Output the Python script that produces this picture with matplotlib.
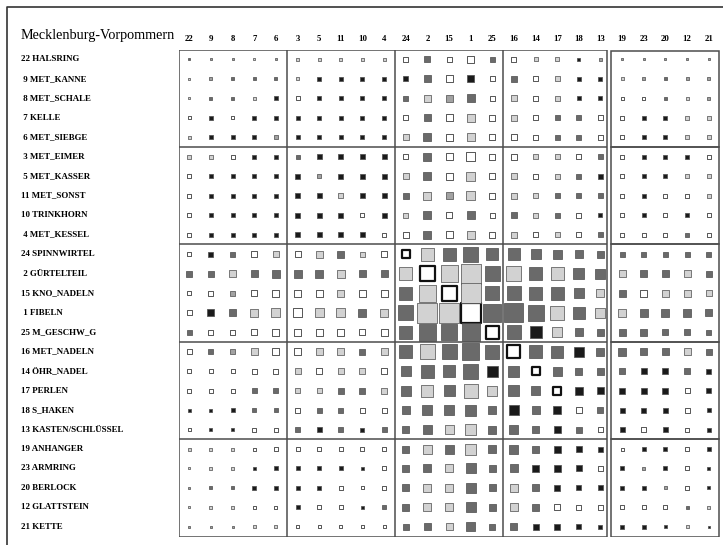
import matplotlib
matplotlib.use("Agg")
import matplotlib.pyplot as plt
from matplotlib.lines import Line2D
from matplotlib.patches import Rectangle
from matplotlib import transforms

plt.rcParams['font.family'] = ['Liberation Serif', 'DejaVu Serif']

title = "Mecklenburg-Vorpommern"

# type numbers in seriation order (rows and columns share it)
codes = [22, 9, 8, 7, 6, 3, 5, 11, 10, 4, 24, 2, 15, 1, 25,
         16, 14, 17, 18, 13, 19, 23, 20, 12, 21]
names = ["HALSRING", "MET_KANNE", "MET_SCHALE", "KELLE", "MET_SIEBGE",
         "MET_EIMER", "MET_KASSER", "MET_SONST", "TRINKHORN", "MET_KESSEL",
         "SPINNWIRTEL", "GÜRTELTEIL", "KNO_NADELN", "FIBELN", "M_GESCHW_G",
         "MET_NADELN", "ÖHR_NADEL", "PERLEN", "S_HAKEN", "KASTEN/SCHLÜSSEL",
         "ANHANGER", "ARMRING", "BERLOCK", "GLATTSTEIN", "KETTE"]

# square side (pixels) for every cell, row by row
sizes = [
    [2, 2, 2, 2, 2, 3, 3, 3, 3, 3, 5, 6, 5, 7, 5, 5, 4, 4, 3, 3, 2, 2, 2, 2, 2],
    [2, 3, 3, 3, 3, 3, 4, 4, 4, 4, 5, 7, 7, 7, 5, 6, 5, 5, 4, 4, 3, 3, 3, 3, 3],
    [2, 3, 3, 3, 4, 4, 4, 4, 4, 4, 5, 7, 7, 8, 5, 6, 5, 5, 4, 4, 3, 3, 3, 3, 3],
    [3, 4, 3, 4, 4, 4, 4, 4, 4, 4, 5, 7, 7, 8, 6, 6, 5, 5, 5, 5, 4, 4, 4, 4, 4],
    [3, 4, 4, 4, 4, 4, 4, 4, 4, 4, 6, 8, 7, 8, 6, 6, 5, 5, 5, 5, 4, 4, 4, 4, 4],
    [4, 4, 4, 4, 4, 4, 5, 5, 5, 5, 5, 8, 7, 9, 6, 6, 5, 5, 5, 5, 4, 4, 4, 4, 4],
    [4, 4, 4, 4, 4, 5, 4, 5, 5, 5, 6, 8, 7, 9, 6, 6, 5, 5, 5, 5, 4, 4, 4, 4, 4],
    [4, 4, 4, 4, 4, 5, 5, 5, 5, 5, 6, 8, 7, 9, 6, 6, 5, 5, 5, 5, 4, 4, 4, 4, 4],
    [4, 4, 4, 4, 4, 5, 5, 5, 4, 5, 5, 8, 6, 8, 5, 6, 5, 5, 5, 4, 4, 4, 4, 4, 4],
    [4, 4, 4, 4, 4, 5, 5, 5, 5, 4, 6, 8, 7, 8, 6, 6, 5, 5, 5, 5, 4, 4, 4, 4, 4],
    [4, 5, 5, 6, 6, 6, 7, 7, 5, 6, 8, 13, 13, 15, 12, 12, 10, 9, 8, 7, 5, 5, 5, 5, 5],
    [6, 6, 7, 7, 8, 8, 8, 8, 7, 7, 13, 15, 17, 20, 15, 15, 13, 13, 11, 10, 7, 7, 7, 7, 6],
    [4, 5, 5, 6, 7, 7, 7, 7, 7, 7, 13, 17, 15, 20, 14, 14, 13, 13, 10, 8, 7, 7, 7, 7, 6],
    [5, 7, 7, 8, 9, 9, 9, 9, 8, 8, 15, 20, 20, 20, 18, 19, 16, 14, 12, 10, 8, 8, 8, 8, 7],
    [5, 5, 5, 6, 7, 7, 7, 7, 6, 7, 13, 17, 16, 18, 13, 14, 12, 10, 8, 7, 7, 7, 6, 6, 5],
    [5, 5, 5, 7, 7, 7, 7, 7, 6, 7, 13, 15, 15, 17, 14, 13, 13, 12, 10, 8, 8, 7, 7, 7, 6],
    [4, 4, 4, 5, 5, 6, 6, 6, 6, 6, 10, 13, 12, 15, 11, 11, 8, 9, 7, 7, 6, 6, 6, 6, 5],
    [4, 4, 4, 5, 5, 5, 5, 6, 6, 6, 10, 12, 11, 14, 10, 11, 9, 8, 8, 7, 6, 6, 6, 5, 5],
    [3, 3, 4, 4, 4, 5, 5, 5, 5, 5, 8, 10, 10, 11, 8, 10, 8, 8, 6, 6, 5, 5, 5, 5, 4],
    [3, 3, 3, 4, 4, 5, 5, 5, 4, 5, 7, 9, 9, 11, 8, 9, 7, 7, 6, 5, 5, 5, 5, 4, 4],
    [3, 3, 3, 3, 4, 4, 4, 4, 4, 4, 7, 9, 9, 11, 8, 9, 7, 7, 6, 5, 3, 4, 4, 4, 4],
    [2, 3, 3, 3, 4, 4, 4, 4, 3, 4, 7, 8, 8, 10, 7, 8, 7, 7, 6, 5, 4, 3, 4, 4, 3],
    [2, 3, 3, 4, 4, 4, 4, 4, 3, 4, 7, 8, 8, 10, 7, 8, 7, 6, 5, 5, 4, 4, 3, 4, 3],
    [2, 3, 3, 3, 3, 4, 4, 4, 3, 4, 7, 8, 8, 10, 7, 8, 7, 6, 5, 5, 4, 4, 4, 3, 3],
    [2, 2, 2, 3, 3, 3, 3, 3, 3, 3, 6, 7, 7, 9, 6, 7, 6, 6, 5, 4, 4, 4, 3, 3, 2],
]

# shading class per cell: W white, L light, M medium, D dark, B black
shades = [
    "DMMLMLLLLLWDWWDWLLBMMMMMM",
    "LMDDDLBBBBBDWBWDWLBBLMDMM",
    "LDDLBWBBBBDLMDWLWLBBWWDLM",
    "WBWBBBBBBBWDWLWLWDDWWBBLL",
    "LBBBMBBBBBLDWLWWWDDWWBBLL",
    "LLWBBDBBBBWDWWWWLLWDWBBBW",
    "WBBBBBMBBBLDWLWLWLDBWBBLL",
    "WBBBBBBLBBDLMLWLLDDDWBWWL",
    "WBBBBBBBWBLDWDWDLDWBWBWBW",
    "WBBBBBBBBWWDWLWLWLWDWWWDW",
    "WBDWLWLDLWWLDDDDDDDDDDDDD",
    "DDLDDDDLDDLWLLDLDLDDLDDLD",
    "WWMWWWWLWWDLWLDDDDDLDWLLL",
    "WBDLLWLLDLDLLWDDDLDLLDDDD",
    "DWWWWWWWWWDDDDWDBLDDDDDDD",
    "WDMLWWLLDLDLDDDWDDBDDDDLD",
    "WWWWWLWLLWDDDDBDWDDDDBBDB",
    "WWWDDLLDDLDLDLLDDWBBBBBWB",
    "BBBDDWDDWWDDDDDBDBWDBBBWB",
    "WBBWWDBDBDDDLLDDDBDWBWBWB",
    "LLLWWWWWWWDLDLDDDBBBWBBWB",
    "LLLBBBBBBWDDLDDDBBBWBMBWB",
    "MDDBBBBWWWDLLDDLDBBBBBMWB",
    "LLLWWBWWBDDLLDDLDWWWWWWDL",
    "MMMLLWWWWWDDLDDDBBBBBBBLB",
]

fill = {"W": "#ffffff", "L": "#d2d2d2", "M": "#a2a2a2", "D": "#6a6a6a", "B": "#1a1a1a"}
n = len(codes)

fig = plt.figure(figsize=(7.23, 5.45), dpi=100)
ax = fig.add_axes([178.5 / 723, 8.3 / 545, 541 / 723, 487.2 / 545])
ax.set_xlim(0, n)
ax.set_ylim(n, 0)
ax.axis("off")

# squares, one scatter per shading class
for key, col in fill.items():
    xs, ys, ss, lws, ecs = [], [], [], [], []
    for r in range(n):
        for c in range(n):
            if shades[r][c] != key:
                continue
            xs.append(c + 0.5)
            ys.append(r + 0.5)
            ss.append((sizes[r][c] * 0.72) ** 2)
            if key == "W" and r == c and sizes[r][c] >= 8:
                lws.append(1.6)
                ecs.append("#111111")
            elif key == "W":
                lws.append(0.7)
                ecs.append("#555555")
            else:
                lws.append(0.5)
                ecs.append("#4a4a4a")
    ax.scatter(xs, ys, s=ss, marker="s", c=col, edgecolors=ecs,
               linewidths=lws, zorder=3)

# block frames
frame = dict(color="#4d4d4d", lw=1.1, solid_capstyle="butt")
right_edge = 19.82
for b in range(0, n + 1, 5):
    ax.plot([0, right_edge], [b, b], **frame)
for b in [0, 5, 10, 15]:
    ax.plot([b, b], [0, n], **frame)
ax.plot([right_edge, right_edge], [0, n], **frame)
for b in range(0, 25, 5):
    top = b + (0.08 if b == 0 else 0.0)
    ax.add_patch(Rectangle((20.0, top), 4.97, b + 5 - top, fill=False,
                           edgecolor="#4d4d4d", lw=1.1))

# column numbers
for c, code in enumerate(codes):
    ax.text(c + 0.5, -0.55, str(code), ha="center", va="center",
            fontsize=6.3, fontweight="bold", clip_on=False)

# row labels
trans = transforms.blended_transform_factory(fig.transFigure, ax.transData)
for r, (code, name) in enumerate(zip(codes, names)):
    label = f"{code} {name}" if code >= 10 else f" {code} {name}"
    ax.text(21 / 723, r + 0.5, label, transform=trans, ha="left", va="center",
            fontsize=6.4, fontweight="bold")

fig.text(21 / 723, 1 - 36 / 545, title, ha="left", va="center", fontsize=10.2)

# outer frame of the page
fig.add_artist(Line2D([7 / 723, 7 / 723, 1.0], [0.0, 1 - 7 / 545, 1 - 7 / 545],
                      transform=fig.transFigure, color="#333333", lw=1.2))

fig.savefig("out.png", dpi=100)
